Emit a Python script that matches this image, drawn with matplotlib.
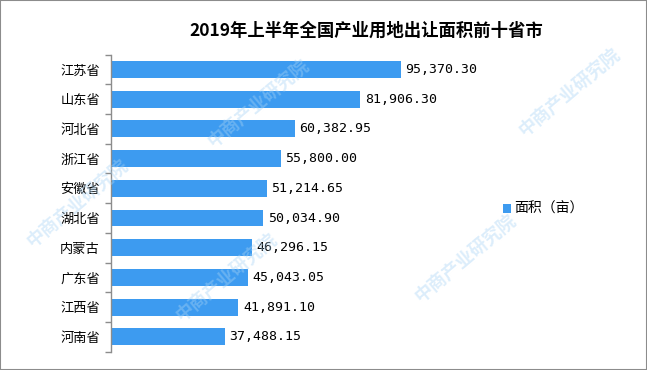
import matplotlib.pyplot as plt
from matplotlib.patches import Rectangle

plt.rcParams['font.family'] = ['Noto Sans CJK SC', 'DejaVu Sans']

# 数据
provinces = ['江苏省', '山东省', '河北省', '浙江省', '安徽省',
             '湖北省', '内蒙古', '广东省', '江西省', '河南省']
areas = [95370.30, 81906.30, 60382.95, 55800.00, 51214.65,
         50034.90, 46296.15, 45043.05, 41891.10, 37488.15]

bar_color = '#3d9bf0'

fig = plt.figure(figsize=(6.47, 3.70), dpi=100)
fig.patches.append(Rectangle((0, 0), 1, 1, transform=fig.transFigure,
                             fill=False, edgecolor='#8c8c8c', linewidth=1.5))

# 水印（保持在画面内）
for x, y in [(0.40, 0.72), (0.88, 0.75), (0.35, 0.25), (0.72, 0.30),
             (0.12, 0.45)]:
    fig.text(x, y, '中商产业研究院', rotation=40, fontsize=13, color='#a9d4f5',
             alpha=0.4, ha='center', va='center', fontweight='bold', zorder=0)

ax = fig.add_axes([0.1716, 0.0495, 0.564, 0.8027])
ax.patch.set_alpha(0)
y = list(range(len(provinces)))
ax.barh(y, areas, height=0.57, color=bar_color, label='面积（亩）', zorder=2)
ax.set_ylim(len(provinces) - 0.5, -0.5)
ax.set_xlim(0, 120000)

for yi, v in zip(y, areas):
    ax.text(v + 1500, yi, f'{v:,.2f}', va='center', ha='left', fontsize=9.5,
            family='DejaVu Sans Mono', color='black')

ax.set_yticks(y)
ax.set_yticklabels(provinces, fontsize=9.5)
ax.set_yticks([i - 0.5 for i in range(len(provinces) + 1)], minor=True)
ax.tick_params(axis='y', which='major', length=0, pad=8)
ax.tick_params(axis='y', which='minor', length=4, color='#8c8c8c', width=1)
ax.set_xticks([])
for s in ['top', 'right', 'bottom']:
    ax.spines[s].set_visible(False)
ax.spines['left'].set_color('#8c8c8c')
ax.spines['left'].set_linewidth(1)

fig.text(0.566, 0.917, '2019年上半年全国产业用地出让面积前十省市', ha='center',
         va='center', fontsize=12.5, fontweight='bold', color='black')

ax.legend(loc='center left', bbox_to_anchor=(1.04, 0.48), frameon=False,
          fontsize=10, handlelength=0.6, handleheight=0.6, handletextpad=0.2)

fig.savefig('out.png', dpi=100)
